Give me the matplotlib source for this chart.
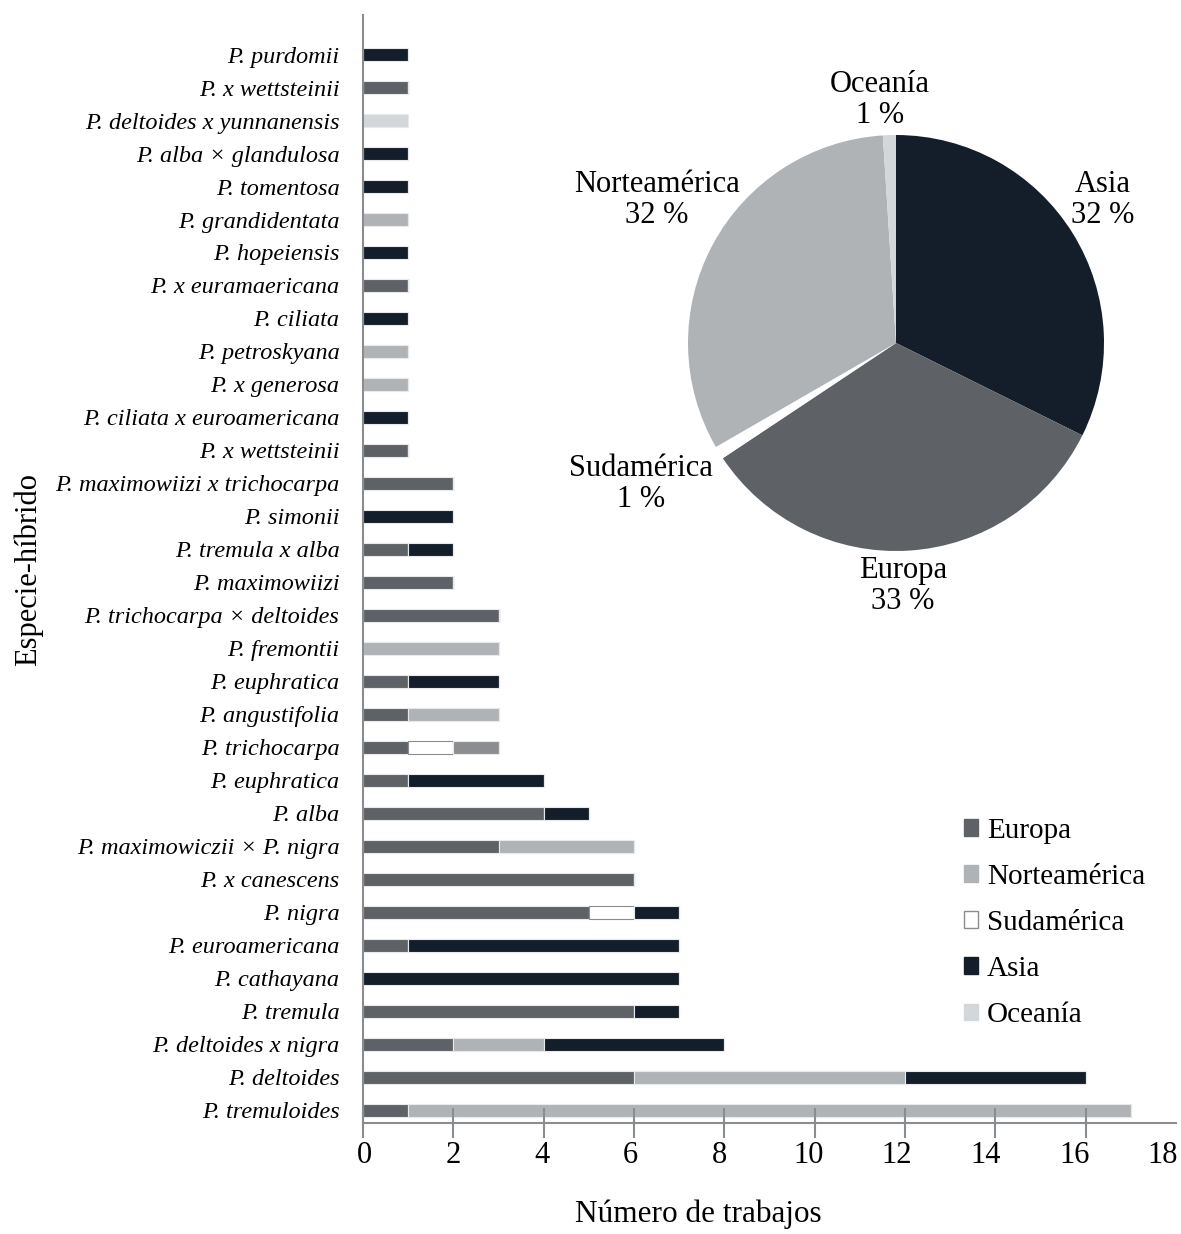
import matplotlib.pyplot as plt
import matplotlib.transforms as mtransforms
import numpy as np

plt.rcParams['font.family'] = ['Liberation Serif', 'DejaVu Serif']

# species / hybrids, top to bottom as listed
especies = [
    'P. purdomii', 'P. x wettsteinii', 'P. deltoides x yunnanensis',
    'P. alba \u00d7 glandulosa', 'P. tomentosa', 'P. grandidentata',
    'P. hopeiensis', 'P. x euramaericana', 'P. ciliata', 'P. petroskyana',
    'P. x generosa', 'P. ciliata x euroamericana', 'P. x wettsteinii',
    'P. maximowiizi x trichocarpa', 'P. simonii', 'P. tremula x alba',
    'P. maximowiizi', 'P. trichocarpa \u00d7 deltoides', 'P. fremontii',
    'P. euphratica', 'P. angustifolia', 'P. trichocarpa', 'P. euphratica',
    'P. alba', 'P. maximowiczii \u00d7 P. nigra', 'P. x canescens',
    'P. nigra', 'P. euroamericana', 'P. cathayana', 'P. tremula',
    'P. deltoides x nigra', 'P. deltoides', 'P. tremuloides',
]
europa =        [0, 1, 0, 0, 0, 0, 0, 1, 0, 0, 0, 0, 1, 2, 0, 1, 2, 3, 0, 1, 1, 1, 1, 4, 3, 6, 5, 1, 0, 6, 2, 6, 1]
sudamerica =    [0, 0, 0, 0, 0, 0, 0, 0, 0, 0, 0, 0, 0, 0, 0, 0, 0, 0, 0, 0, 0, 1, 0, 0, 0, 0, 1, 0, 0, 0, 0, 0, 0]
norteamerica =  [0, 0, 0, 0, 0, 1, 0, 0, 0, 1, 1, 0, 0, 0, 0, 0, 0, 0, 3, 0, 2, 1, 0, 0, 3, 0, 0, 0, 0, 0, 2, 6, 16]
asia =          [1, 0, 0, 1, 1, 0, 1, 0, 1, 0, 0, 1, 0, 0, 2, 1, 0, 0, 0, 2, 0, 0, 3, 1, 0, 0, 1, 6, 7, 1, 4, 4, 0]
oceania =       [0, 0, 1, 0, 0, 0, 0, 0, 0, 0, 0, 0, 0, 0, 0, 0, 0, 0, 0, 0, 0, 0, 0, 0, 0, 0, 0, 0, 0, 0, 0, 0, 0]

x_ticks = [0, 2, 4, 6, 8, 10, 12, 14, 16, 18]

# share of studies by region (pie, clockwise from top)
pie_regiones = ['Asia', 'Europa', 'Sudam\u00e9rica', 'Norteam\u00e9rica', 'Ocean\u00eda']
pie_pct = [32, 33, 1, 32, 1]

colores = {
    'Europa': '#5e6166',
    'Norteam\u00e9rica': '#b0b3b6',
    'Sudam\u00e9rica': '#ffffff',
    'Asia': '#141e2b',
    'Ocean\u00eda': '#d4d7da',
}

W, H = 1181, 1234
fig = plt.figure(figsize=(W / 100, H / 100), dpi=100)
fig.patch.set_facecolor('white')

ax = fig.add_axes([363 / W, (H - 1123) / H, (1176 - 363) / W, (1123 - 15) / H])

n = len(especies)
y = np.arange(n)[::-1]
izq = np.zeros(n)
series = [('Europa', europa), ('Sudam\u00e9rica', sudamerica),
          ('Norteam\u00e9rica', norteamerica), ('Asia', asia), ('Ocean\u00eda', oceania)]
barras = {}
for nombre, vals in series:
    vals = np.array(vals, dtype=float)
    ec = '#8a8c90' if nombre == 'Sudam\u00e9rica' else '#e8e9ea'
    barras[nombre] = ax.barh(y, vals, left=izq, height=0.4, color=colores[nombre],
                             edgecolor=ec, linewidth=0.8)
    izq += vals

# the lone North American record on P. trichocarpa is drawn in a darker grey
idx = especies.index('P. trichocarpa')
barras['Norteam\u00e9rica'].patches[idx].set_facecolor('#8b8d90')

ax.set_xlim(0, 18)
ax.set_ylim(-0.39, n - 1 + 1.2)
ax.set_xticks(x_ticks)
ax.set_yticks(y)
ax.set_yticklabels(especies, fontstyle='italic', fontsize=17.5)
ax.tick_params(axis='y', length=0, pad=17)
ax.tick_params(axis='x', direction='inout', length=22, width=1.5, color='#8a8c90',
               labelsize=22, pad=2)
ax.xaxis.get_major_ticks()[-1].tick1line.set_visible(False)

# tick numbers sit on a slightly tighter pitch than the tick marks
for v, lab in zip(x_ticks, ax.get_xticklabels()):
    dx = (1.7 - 0.82 * v) / 100
    lab.set_transform(lab.get_transform() +
                      mtransforms.ScaledTranslation(dx, 0, fig.dpi_scale_trans))

for s in ['top', 'right']:
    ax.spines[s].set_visible(False)
for s in ['left', 'bottom']:
    ax.spines[s].set_color('#8a8c90')
    ax.spines[s].set_linewidth(1.5)

fig.text(698 / W, 1 - 1214 / H, 'N\u00famero de trabajos', fontsize=22.5, ha='center', va='center')
fig.text(28 / W, 1 - 570 / H, 'Especie-h\u00edbrido', fontsize=22, rotation=90,
         ha='center', va='center')

# legend
orden = ['Europa', 'Norteam\u00e9rica', 'Sudam\u00e9rica', 'Asia', 'Ocean\u00eda']
handles = [plt.Rectangle((0, 0), 1, 1, facecolor=colores[k],
                         edgecolor='#8a8c90' if k == 'Sudam\u00e9rica' else colores[k])
           for k in orden]
ax.legend(handles, orden,
          loc='upper left', bbox_to_anchor=((952 - 363) / (1176 - 363), (1123 - 806) / (1123 - 15)),
          frameon=False, fontsize=21, handlelength=0.5, handleheight=0.5,
          handletextpad=0.3, labelspacing=0.69, borderaxespad=0)

# pie inset
r = 208
cx, cy = 896, 343
pax = fig.add_axes([(cx - r) / W, (H - cy - r) / H, 2 * r / W, 2 * r / H])
pax.pie(pie_pct, colors=[colores[k] for k in pie_regiones], startangle=90,
        counterclock=False, radius=1, wedgeprops=dict(linewidth=0))
pax.set_xlim(-1, 1)
pax.set_ylim(-1, 1)
pax.set_aspect('equal')
pax.set_axis_off()

etiquetas = {
    'Ocean\u00eda': (880, 100),
    'Asia': (1103, 200),
    'Norteam\u00e9rica': (657, 200),
    'Sudam\u00e9rica': (641, 484),
    'Europa': (903, 586),
}
for nombre, pct in zip(pie_regiones, pie_pct):
    px, py = etiquetas[nombre]
    fig.text(px / W, 1 - py / H, f'{nombre}\n{pct} %', fontsize=22, ha='center',
             va='center', linespacing=1.12)

fig.savefig('out.png', dpi=100, facecolor='white')
